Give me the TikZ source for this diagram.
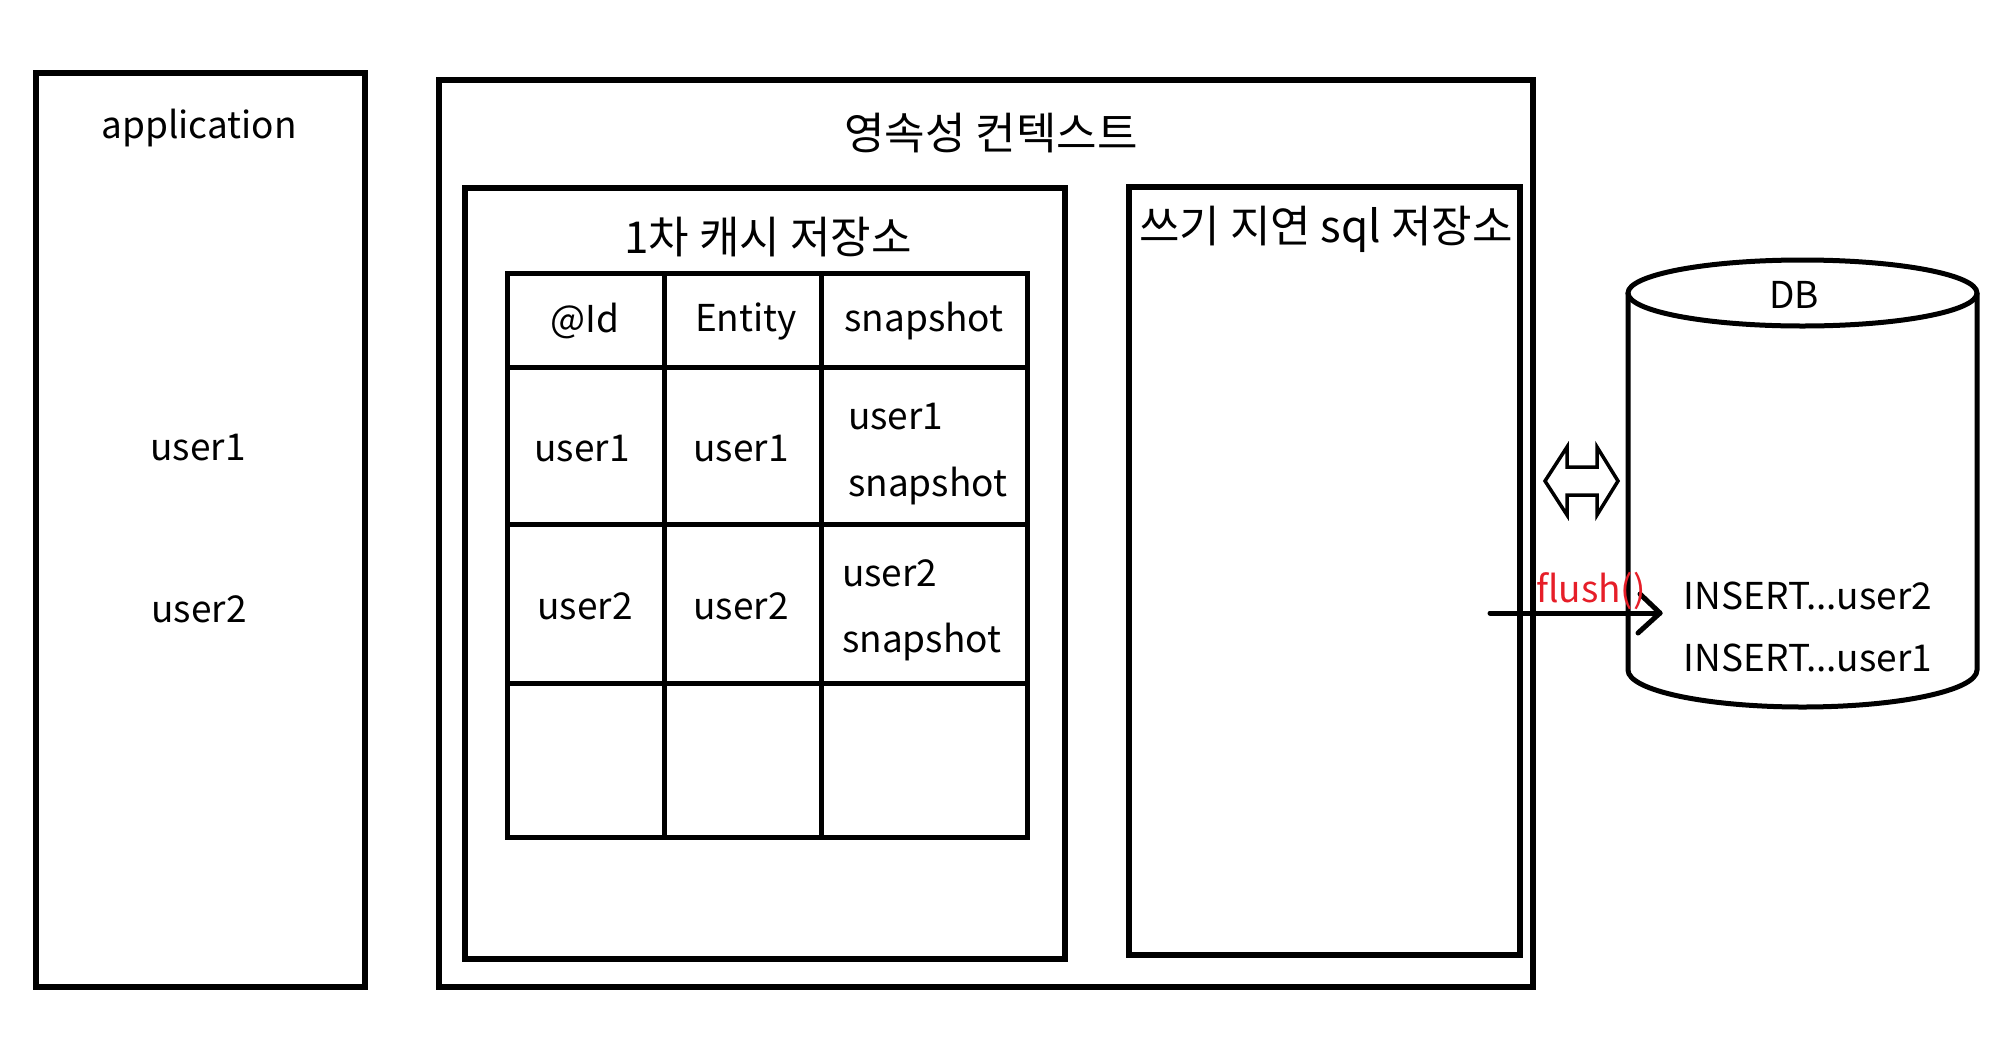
\documentclass[tikz,border=0pt]{standalone}
\usepackage{fontspec}
\setmainfont{Noto Sans CJK KR}
\begin{document}
\begin{tikzpicture}[x=1pt,y=-1pt,
  box/.style={draw=black,line width=6pt},
  grid/.style={draw=black,line width=5pt},
  lbl/.style={inner sep=0pt,yshift=-3pt,font=\fontsize{37}{44}\selectfont},
  krlbl/.style={inner sep=0pt,yshift=-3pt,font=\fontsize{44}{52}\selectfont},
  lftlbl/.style={lbl,anchor=west}]
\useasboundingbox (0,0) rectangle (2003,1058);
% application
\draw[box] (36,73) rectangle (365,987);
\node[lbl] (app) at (199,125) {application};
\node[lbl] (au1) at (198,445) {user1};
\node[lbl] (au2) at (199,606) {user2};
% persistence context
\draw[box] (439,80) rectangle (1533,987);
\node[krlbl] (pc) at (991,130) {영속성 컨텍스트};
% first-level cache
\draw[box] (465,188) rectangle (1065,959);
\node[krlbl] (fc) at (768,234) {1차 캐시 저장소};
% table
\draw[grid] (507,273) rectangle (1027,837);
\draw[grid] (664,273) -- (664,837);
\draw[grid] (821,273) -- (821,837);
\draw[grid] (507,367) -- (1027,367);
\draw[grid] (507,524) -- (1027,524);
\draw[grid] (507,683) -- (1027,683);
\node[lbl] (h1) at (585,318) {@Id};
\node[lbl] (h2) at (746,318) {Entity};
\node[lbl] (h3) at (924,318) {snapshot};
\node[lbl] (r1a) at (582,446) {user1};
\node[lbl] (r1b) at (741,446) {user1};
\node[lftlbl] (r1c) at (848,414) {user1};
\node[lftlbl] (r1d) at (848,483) {snapshot};
\node[lbl] (r2a) at (585,603) {user2};
\node[lbl] (r2b) at (741,603) {user2};
\node[lftlbl] (r2c) at (842,570) {user2};
\node[lftlbl] (r2d) at (842,639) {snapshot};
% write-behind sql store
\draw[box] (1129,187) rectangle (1520,955);
\node[krlbl] (sq) at (1326,226) {쓰기 지연 sql 저장소};
% DB cylinder
\draw[line width=5pt,fill=white] (1628,293) -- (1628,670) arc[start angle=180,end angle=360,x radius=174.5,y radius=-37] -- (1977,293);
\draw[line width=5pt] (1802.5,293) ellipse[x radius=174.5,y radius=33];
\node[lbl] (db) at (1794,292) {DB};
\node[lbl] (i2) at (1808,593) {INSERT...user2};
\node[lbl] (i1) at (1808,655) {INSERT...user1};
% double arrow
\draw[line width=3.5pt,line join=miter] (1545,481) -- (1567,447) -- (1567,467) -- (1597,467) -- (1597,447) -- (1618,481) -- (1597,515) -- (1597,495) -- (1567,495) -- (1567,515) -- cycle;
% flush arrow
\coordinate (fs) at (1490,613);
\coordinate (fe) at (1660,613);
\draw[line width=5pt,line cap=round] (fs) -- (fe);
\draw[line width=5pt,line cap=round,line join=round] (1640,594) -- (fe) -- (1638,633);
\node[lbl,text={rgb,255:red,230;green,30;blue,40}] (fl) at (1591,588) {flush()};
\end{tikzpicture}
\end{document}
